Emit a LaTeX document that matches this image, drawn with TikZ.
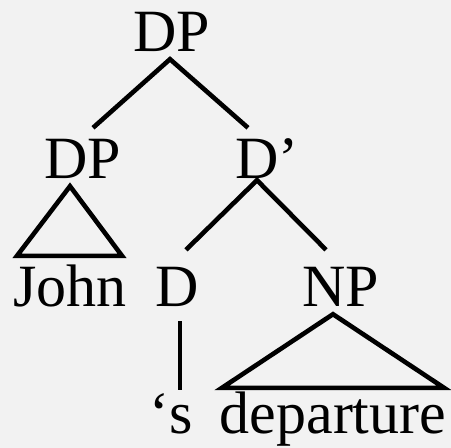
\documentclass[tikz,border=0pt]{standalone}
\usepackage{fontspec}
\setmainfont{Liberation Serif}
\definecolor{paper}{HTML}{F2F2F2}

\tikzset{
	cat/.style={anchor=base, inner xsep=0pt, inner ysep=8pt, text height=42pt, text depth=0pt, font=\fontsize{60}{72}\selectfont},
	branch/.style={line width=4.6pt},
}

\begin{document}
\begin{tikzpicture}[x=1pt, y=-1pt]
					\fill[paper] (0,0) rectangle (451,448);
					\useasboundingbox (0,0) rectangle (451,448);
					
					\node[cat] (dp) at (172,51) {DP};
					\node[cat] (spec) at (83,178) {DP};
					\node[cat] (dbar) at (267,178) {D’};
					\node[cat] (john) at (70,306) {John};
					\node[cat] (d) at (177,306) {D};
					\node[cat] (np) at (341,306) {NP};
					\node[cat] (s) at (171,433) {‘s};
					\node[cat] (dep) at (333,433) {departure};
					
					\draw[branch] ([xshift=10pt]spec.north) -- ([xshift=-2pt]dp.south) -- ([xshift=-19pt]dbar.north);
					\draw[branch] ([xshift=9pt, yshift=6pt]d.north) -- ([xshift=-10pt, yshift=6pt]dbar.south) -- ([xshift=-15pt, yshift=6pt]np.north);
					\draw[branch] ([xshift=3pt, yshift=-7pt]d.south) -- ([xshift=9pt, yshift=-7pt]s.north);
					
					% triangles over unanalysed phrases
					\draw[branch, line join=miter] ([xshift=-13pt]spec.south) -- ([xshift=-53pt]john.north) -- ([xshift=52pt]john.north) -- cycle;
					\draw[branch, line join=miter] ([xshift=-8pt]np.south) -- ([xshift=-111pt, yshift=-5pt]dep.north) -- ([xshift=111pt, yshift=-5pt]dep.north) -- cycle;
				\end{tikzpicture}
\end{document}
